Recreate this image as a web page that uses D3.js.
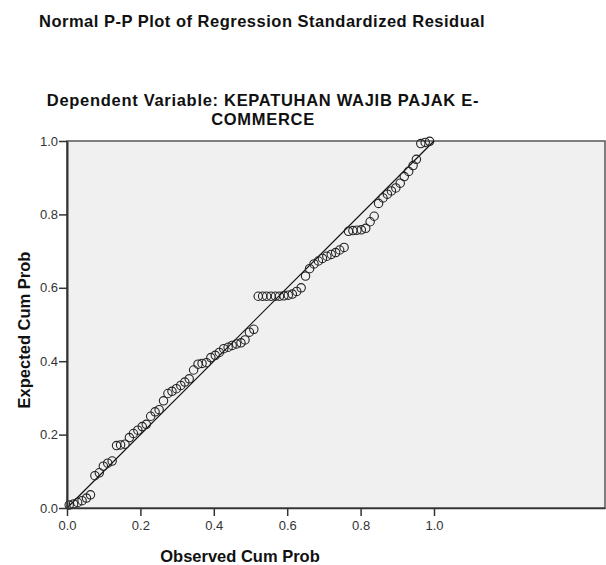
<!DOCTYPE html>
<html>
<head>
<meta charset="utf-8">
<script src="https://cdn.jsdelivr.net/npm/d3@7"></script>
<style>
  body { margin: 0; background: #fff; }
  .axis text { font-family: "Liberation Sans", Arial, sans-serif; font-size: 13px; fill: #333; }
  .axis line, .axis path { stroke: #333; }
  .titulo { font-family: "Liberation Sans", Arial, sans-serif; font-weight: bold; fill: #111; }
</style>
</head>
<body>
<div id="graf"></div>
<script>
// P-P plot: probabilidad acumulada observada vs esperada
const titulo = "Normal P-P Plot of Regression Standardized Residual"
const subtitulo = ["Dependent Variable: KEPATUHAN WAJIB PAJAK E-", "COMMERCE"]
const etiquetaX = "Observed Cum Prob"
const etiquetaY = "Expected Cum Prob"
const ticks = [0.0, 0.2, 0.4, 0.6, 0.8, 1.0]

// valores
const observada = [
  0.006, 0.018, 0.029, 0.041, 0.053, 0.064, 0.076, 0.088, 0.099, 0.111,
  0.123, 0.135, 0.146, 0.158, 0.170, 0.181, 0.193, 0.205, 0.216, 0.228,
  0.240, 0.251, 0.263, 0.275, 0.286, 0.298, 0.310, 0.321, 0.333, 0.345,
  0.357, 0.368, 0.380, 0.392, 0.404, 0.415, 0.427, 0.439, 0.450, 0.462,
  0.474, 0.485, 0.497, 0.509, 0.521, 0.533, 0.544, 0.556, 0.568, 0.579,
  0.591, 0.603, 0.614, 0.626, 0.638, 0.650, 0.661, 0.673, 0.685, 0.696,
  0.708, 0.720, 0.732, 0.743, 0.755, 0.767, 0.779, 0.790, 0.802, 0.814,
  0.826, 0.837, 0.849, 0.861, 0.873, 0.884, 0.896, 0.908, 0.919, 0.931,
  0.943, 0.952, 0.964, 0.976, 0.988
]
const esperada = [
  0.008, 0.011, 0.015, 0.020, 0.027, 0.036, 0.088, 0.096, 0.114, 0.122,
  0.128, 0.170, 0.172, 0.174, 0.192, 0.203, 0.212, 0.222, 0.228, 0.250,
  0.262, 0.268, 0.292, 0.312, 0.318, 0.325, 0.334, 0.343, 0.352, 0.376,
  0.392, 0.394, 0.396, 0.410, 0.416, 0.424, 0.434, 0.438, 0.443, 0.447,
  0.450, 0.458, 0.479, 0.487, 0.577, 0.577, 0.577, 0.577, 0.577, 0.577,
  0.578, 0.580, 0.583, 0.590, 0.600, 0.632, 0.652, 0.665, 0.673, 0.680,
  0.686, 0.691, 0.696, 0.703, 0.710, 0.754, 0.756, 0.757, 0.758, 0.762,
  0.780, 0.795, 0.830, 0.845, 0.855, 0.864, 0.872, 0.885, 0.903, 0.917,
  0.933, 0.950, 0.993, 0.996, 0.999
]

const anchoTotal = 606
const altoTotal = 565
const margins = { top: 141, right: 1, bottom: 57, left: 67 }
const alto = altoTotal - margins.top - margins.bottom
const ancho = anchoTotal - margins.left - margins.right
const unidad = alto   // misma escala en ambos ejes

const svg = d3.select("#graf")
  .append("svg")
  .attr("width", anchoTotal)
  .attr("height", altoTotal)

// Escaladores
const x = d3.scaleLinear().domain([0, ancho / unidad]).range([0, ancho])
const y = d3.scaleLinear().domain([0, 1]).range([alto, 0])

const g = svg.append("g")
  .attr("transform", `translate(${margins.left}, ${margins.top})`)

g.append("rect")
  .attr("width", ancho)
  .attr("height", alto)
  .attr("fill", "#f0f0f0")
  .attr("stroke", "#555")
  .attr("stroke-width", 1.5)

// linea de referencia
g.append("line")
  .attr("x1", x(0)).attr("y1", y(0))
  .attr("x2", x(1)).attr("y2", y(1))
  .attr("stroke", "#111")
  .attr("stroke-width", 1.2)

// puntos
const datos = observada.map((d, i) => ({ obs: d, esp: esperada[i] }))
g.selectAll("circle")
  .data(datos)
  .enter()
  .append("circle")
  .attr("cx", d => x(d.obs))
  .attr("cy", d => y(d.esp))
  .attr("r", 4.2)
  .attr("fill", "none")
  .attr("stroke", "#222")
  .attr("stroke-width", 1.1)

// Ejes
const xAxis = d3.axisBottom(x).tickValues(ticks).tickFormat(d3.format(".1f")).tickSize(8).tickSizeOuter(0)
const yAxis = d3.axisLeft(y).tickValues(ticks).tickFormat(d3.format(".1f")).tickSize(8).tickSizeOuter(0)

const xg = g.append("g")
  .attr("class", "axis")
  .attr("transform", `translate(0, ${alto})`)
  .call(xAxis)
xg.select(".domain").attr("stroke-width", 1.5)
xg.selectAll(".tick line").attr("stroke-width", 1.5)
xg.selectAll("text").attr("dy", "0.85em")

const yg = g.append("g").attr("class", "axis").call(yAxis)
yg.select(".domain").attr("stroke-width", 2)
yg.selectAll(".tick line").attr("stroke-width", 1.5)
yg.selectAll("text").attr("x", -9)

// Titulos
svg.append("text")
  .attr("class", "titulo")
  .attr("x", 262).attr("y", 27)
  .attr("text-anchor", "middle")
  .style("font-size", "16.5px")
  .style("letter-spacing", "0.5px")
  .text(titulo)

svg.append("text")
  .attr("class", "titulo")
  .attr("x", 263).attr("y", 105.5)
  .attr("text-anchor", "middle")
  .style("font-size", "16.5px")
  .style("letter-spacing", "0.7px")
  .selectAll("tspan")
  .data(subtitulo)
  .enter()
  .append("tspan")
  .attr("x", 263)
  .attr("dy", (d, i) => i === 0 ? 0 : 19)
  .text(d => d)

svg.append("text")
  .attr("class", "titulo")
  .attr("x", 240).attr("y", 562)
  .attr("text-anchor", "middle")
  .style("font-size", "16.5px")
  .text(etiquetaX)

svg.append("text")
  .attr("class", "titulo")
  .attr("transform", "translate(30, 330) rotate(-90)")
  .attr("text-anchor", "middle")
  .style("font-size", "16.5px")
  .text(etiquetaY)
</script>
</body>
</html>
